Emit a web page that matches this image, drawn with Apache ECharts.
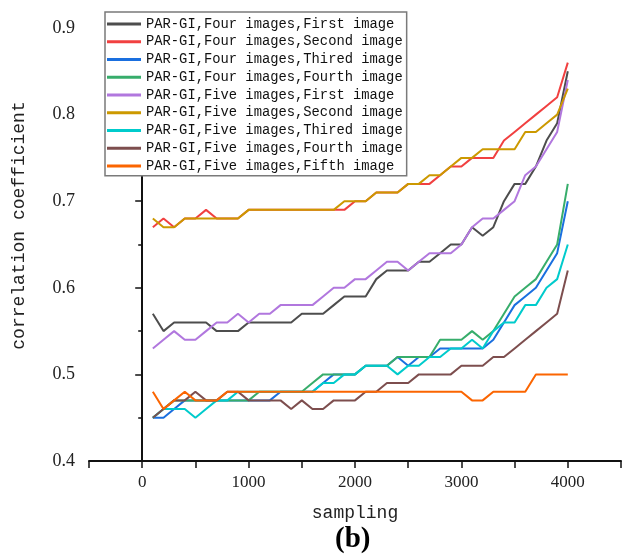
<!DOCTYPE html>
<html>
<head>
<meta charset="utf-8">
<script src="https://cdn.jsdelivr.net/npm/echarts@6/dist/echarts.min.js"></script>
<style>html,body{margin:0;padding:0;background:#fff;}#c{width:624px;height:554px;}</style>
</head>
<body>
<div id="c"></div>
<script>
const sampling = [100,200,300,400,500,600,700,800,900,1000,1100,1200,1300,1400,1500,1600,1700,1800,1900,2000,2100,2200,2300,2400,2500,2600,2700,2800,2900,3000,3100,3200,3300,3400,3500,3600,3700,3800,3900,4000];

const fourFirst  = [0.57,0.55,0.56,0.56,0.56,0.56,0.55,0.55,0.55,0.56,0.56,0.56,0.56,0.56,0.57,0.57,0.57,0.58,0.59,0.59,0.59,0.61,0.62,0.62,0.62,0.63,0.63,0.64,0.65,0.65,0.67,0.66,0.67,0.70,0.72,0.72,0.74,0.77,0.79,0.85];
const fourSecond = [0.67,0.68,0.67,0.68,0.68,0.69,0.68,0.68,0.68,0.69,0.69,0.69,0.69,0.69,0.69,0.69,0.69,0.69,0.69,0.70,0.70,0.71,0.71,0.71,0.72,0.72,0.72,0.73,0.74,0.74,0.75,0.75,0.75,0.77,0.78,0.79,0.80,0.81,0.82,0.86];
const fourThird  = [0.45,0.45,0.46,0.47,0.47,0.47,0.47,0.47,0.47,0.47,0.47,0.47,0.48,0.48,0.48,0.48,0.49,0.50,0.50,0.50,0.51,0.51,0.51,0.52,0.51,0.52,0.52,0.53,0.53,0.53,0.53,0.53,0.54,0.56,0.58,0.59,0.60,0.62,0.64,0.70];
const fourFourth = [0.45,0.46,0.47,0.47,0.47,0.47,0.47,0.47,0.47,0.47,0.48,0.48,0.48,0.48,0.48,0.49,0.50,0.50,0.50,0.50,0.51,0.51,0.51,0.52,0.52,0.52,0.52,0.54,0.54,0.54,0.55,0.54,0.55,0.57,0.59,0.60,0.61,0.63,0.65,0.72];
const fiveFirst  = [0.53,0.54,0.55,0.54,0.54,0.55,0.56,0.56,0.57,0.56,0.57,0.57,0.58,0.58,0.58,0.58,0.59,0.60,0.60,0.61,0.61,0.62,0.63,0.63,0.62,0.63,0.64,0.64,0.64,0.65,0.67,0.68,0.68,0.69,0.70,0.73,0.74,0.76,0.78,0.84];
const fiveSecond = [0.68,0.67,0.67,0.68,0.68,0.68,0.68,0.68,0.68,0.69,0.69,0.69,0.69,0.69,0.69,0.69,0.69,0.69,0.70,0.70,0.70,0.71,0.71,0.71,0.72,0.72,0.73,0.73,0.74,0.75,0.75,0.76,0.76,0.76,0.76,0.78,0.78,0.79,0.80,0.83];
const fiveThird  = [0.45,0.46,0.46,0.46,0.45,0.46,0.47,0.47,0.48,0.48,0.48,0.48,0.48,0.48,0.48,0.48,0.49,0.49,0.50,0.50,0.51,0.51,0.51,0.50,0.51,0.51,0.52,0.52,0.53,0.53,0.54,0.53,0.55,0.56,0.56,0.58,0.58,0.60,0.61,0.65];
const fiveFourth = [0.45,0.46,0.47,0.47,0.48,0.47,0.47,0.48,0.48,0.47,0.47,0.47,0.47,0.46,0.47,0.46,0.46,0.47,0.47,0.47,0.48,0.48,0.49,0.49,0.49,0.50,0.50,0.50,0.50,0.51,0.51,0.51,0.52,0.52,0.53,0.54,0.55,0.56,0.57,0.62];
const fiveFifth  = [0.48,0.46,0.47,0.48,0.47,0.47,0.47,0.48,0.48,0.48,0.48,0.48,0.48,0.48,0.48,0.48,0.48,0.48,0.48,0.48,0.48,0.48,0.48,0.48,0.48,0.48,0.48,0.48,0.48,0.48,0.47,0.47,0.48,0.48,0.48,0.48,0.50,0.50,0.50,0.50];

const seriesNames = [
  'PAR-GI,Four images,First image',
  'PAR-GI,Four images,Second image',
  'PAR-GI,Four images,Thired image',
  'PAR-GI,Four images,Fourth image',
  'PAR-GI,Five images,First image',
  'PAR-GI,Five images,Second image',
  'PAR-GI,Five images,Thired image',
  'PAR-GI,Five images,Fourth image',
  'PAR-GI,Five images,Fifth image'
];
const seriesValues = [fourFirst, fourSecond, fourThird, fourFourth, fiveFirst, fiveSecond, fiveThird, fiveFourth, fiveFifth];
const colors = ['#4d4d4d','#f14040','#1a6fdf','#37ad6b','#b177de','#cc9900','#00cbcc','#7d4e4e','#fb6501'];

const xTickLabels = ['0','1000','2000','3000','4000'];
const yTickLabels = ['0.4','0.5','0.6','0.7','0.8','0.9'];

const chart = echarts.init(document.getElementById('c'), null, {renderer: 'canvas'});
const mono = 'Liberation Mono';
const serif = 'Liberation Serif';

chart.setOption({
  animation: false,
  backgroundColor: '#fff',
  color: colors,
  title: {
    text: '(b)',
    left: 330, top: 520,
    textStyle: {fontFamily: serif, fontWeight: 'bold', fontSize: 29, color: '#000'}
  },
  grid: {left: 89, right: 0, top: 28, bottom: 93},
  legend: {
    orient: 'vertical',
    left: 105, top: 12,
    padding: [3, 4, 1, 2],
    itemGap: 0,
    itemWidth: 34,
    itemHeight: 3,
    icon: 'rect',
    backgroundColor: '#fff',
    borderColor: '#7a7a7a',
    borderWidth: 1.5,
    textStyle: {fontFamily: mono, fontSize: 13.8, color: '#111', lineHeight: 17.75},
    data: seriesNames
  },
  xAxis: {
    type: 'value',
    min: -500, max: 4500, interval: 500,
    name: 'sampling',
    nameLocation: 'middle',
    nameGap: 43,
    nameTextStyle: {fontFamily: mono, fontSize: 18, color: '#222'},
    axisLine: {show: true, lineStyle: {color: '#111', width: 2}},
    axisTick: {show: true, length: 7, lineStyle: {color: '#111', width: 1.5}},
    axisLabel: {
      fontFamily: serif, fontSize: 17, color: '#222', margin: 13,
      formatter: v => { const s = String(Math.round(v)); return xTickLabels.indexOf(s) >= 0 ? s : ''; }
    },
    splitLine: {show: false}
  },
  yAxis: {
    type: 'value',
    min: 0.4, max: 0.9, interval: 0.1,
    name: 'correlation coefficient',
    nameLocation: 'middle',
    nameGap: 61,
    nameTextStyle: {fontFamily: mono, fontSize: 18, color: '#222', padding: [0, 0, 0, 38]},
    axisLine: {show: true, lineStyle: {color: '#111', width: 2}},
    axisTick: {show: true, length: 7, lineStyle: {color: '#111', width: 1.5}},
    minorTick: {show: true, splitNumber: 2, length: 4, lineStyle: {color: '#111', width: 1.5}},
    axisLabel: {
      fontFamily: serif, fontSize: 18, color: '#222', margin: 14,
      formatter: v => { const s = v.toFixed(1); return yTickLabels.indexOf(s) >= 0 ? s : ''; }
    },
    splitLine: {show: false}
  },
  series: seriesNames.map((name, i) => ({
    name: name,
    type: 'line',
    symbol: 'none',
    showSymbol: false,
    lineStyle: {width: 2, color: colors[i]},
    itemStyle: {color: colors[i]},
    data: sampling.map((x, j) => [x, seriesValues[i][j]])
  }))
});
</script>
</body>
</html>
